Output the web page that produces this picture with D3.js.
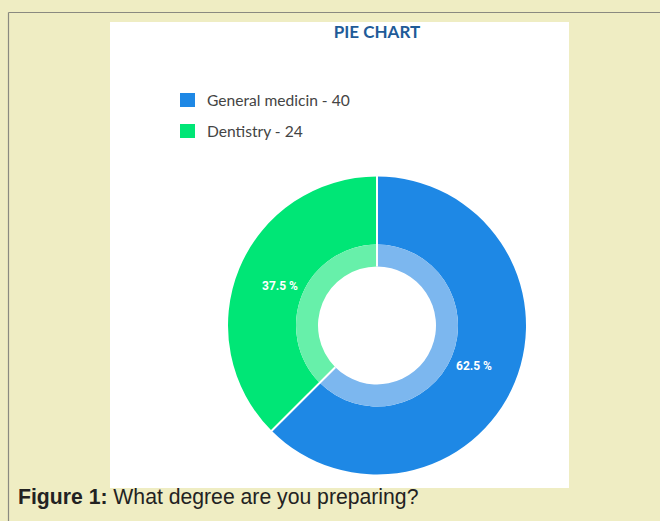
<!DOCTYPE html>
<html>
<head>
<meta charset="utf-8">
<script src="https://cdn.jsdelivr.net/npm/d3@7"></script>
<style>
html,body{margin:0;padding:0;background:#efedc3;}
svg{display:block;}
</style>
</head>
<body>
<svg id="c" width="660" height="521"></svg>
<script>
const categories = ["General medicin", "Dentistry"];
const values = [40, 24];
const colors = ["#1e88e5", "#00e676"];
const innerColors = ["#7cb7ef", "#67f0aa"];
const title = "PIE CHART";

const svg = d3.select("#c");
svg.append("rect").attr("x",0).attr("y",0).attr("width",660).attr("height",521).attr("fill","#efedc3");
svg.append("line").attr("x1",8.5).attr("x2",660).attr("y1",12.5).attr("y2",12.5).attr("stroke","#8a8a80").attr("stroke-width",1.2);
svg.append("line").attr("x1",8.5).attr("x2",8.5).attr("y1",12.5).attr("y2",521).attr("stroke","#8a8a80").attr("stroke-width",1.2);

svg.append("rect").attr("x",110).attr("y",22).attr("width",459).attr("height",466).attr("fill","#ffffff");

svg.append("text").attr("x",377).attr("y",37.5).attr("text-anchor","middle")
  .attr("font-family","Lato, 'Open Sans', sans-serif").attr("font-weight","bold").attr("font-size",17)
  .attr("fill","#1f5b98").text(title);

const total = d3.sum(values);
const leg = svg.append("g");
categories.forEach((c,i)=>{
  const y = 93 + i*31;
  leg.append("rect").attr("x",180).attr("y",y).attr("width",15).attr("height",14).attr("fill",colors[i]);
  leg.append("text").attr("x",207).attr("y",y+13).attr("font-family","Lato, 'Open Sans', sans-serif")
    .attr("font-size",15.6).attr("fill","#444").text(c + " - " + values[i]);
});

const cx = 377, cy = 325.5;
const pie = d3.pie().sort(null).value(d=>d.v);
const data = pie(categories.map((c,i)=>({c, v: values[i], i})));
const outerArc = d3.arc().innerRadius(81).outerRadius(149);
const innerArc = d3.arc().innerRadius(59).outerRadius(81);
const labelArc = d3.arc().innerRadius(105).outerRadius(105);
const g = svg.append("g").attr("transform",`translate(${cx},${cy})`);
g.selectAll("path.o").data(data).join("path").attr("class","o").attr("d",outerArc).attr("fill",d=>colors[d.data.i]);
g.selectAll("path.i").data(data).join("path").attr("class","i").attr("d",innerArc).attr("fill",d=>innerColors[d.data.i]);
data.forEach(d=>{
  const a = d.startAngle;
  g.append("line").attr("x1",Math.sin(a)*59).attr("y1",-Math.cos(a)*59)
    .attr("x2",Math.sin(a)*150).attr("y2",-Math.cos(a)*150)
    .attr("stroke","#fff").attr("stroke-width",2);
});
g.selectAll("text.l").data(data).join("text").attr("class","l")
  .attr("transform",d=>`translate(${labelArc.centroid(d)})`)
  .attr("text-anchor","middle").attr("dy","0.35em")
  .attr("font-family","Roboto, sans-serif").attr("font-weight","bold").attr("font-size",12)
  .attr("fill","#fff").text(d=>(d.data.v/total*100).toFixed(1)+" %");

const cap = svg.append("text").attr("x",18).attr("y",504)
  .attr("font-family","'Liberation Sans', Arial, sans-serif").attr("font-size",21.2).attr("fill","#222");
cap.append("tspan").attr("font-weight","bold").text("Figure 1:");
cap.append("tspan").text(" What degree are you preparing?");
</script>
</body>
</html>
